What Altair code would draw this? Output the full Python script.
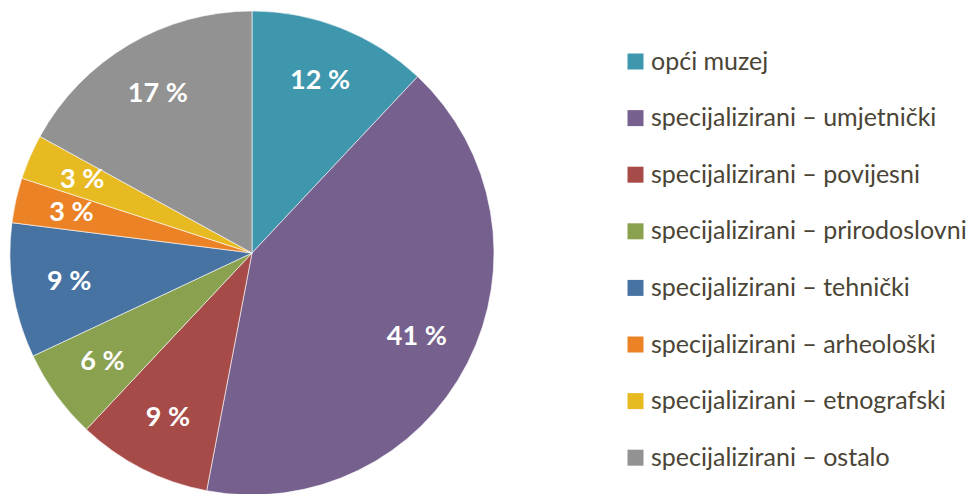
import altair as alt
import pandas as pd

categories = [
    "opći muzej",
    "specijalizirani – umjetnički",
    "specijalizirani – povijesni",
    "specijalizirani – prirodoslovni",
    "specijalizirani – tehnički",
    "specijalizirani – arheološki",
    "specijalizirani – etnografski",
    "specijalizirani – ostalo",
]
values = [12, 41, 9, 6, 9, 3, 3, 17]
colors = ["#3F97AE", "#76608E", "#A64B47", "#8AA14F", "#4773A3", "#EB8326", "#E8BA22", "#929292"]

df = pd.DataFrame({
    "cat": categories,
    "val": values,
    "idx": list(range(len(values))),
    "label": [f"{v} %" for v in values],
})

cx, cy, R = 243, 245, 242

base = alt.Chart(df).encode(
    theta=alt.Theta("val:Q", stack=True),
    order=alt.Order("idx:Q", sort="ascending"),
)

pie = base.mark_arc(outerRadius=R, stroke="#ffffff", strokeWidth=0.6).encode(
    x=alt.value(cx),
    y=alt.value(cy),
    color=alt.Color(
        "cat:N",
        scale=alt.Scale(domain=categories, range=colors),
        sort=categories,
        legend=alt.Legend(
            title=None,
            orient="none",
            legendX=614,
            legendY=41,
            symbolType="square",
            symbolSize=256,
            symbolStrokeWidth=0,
            labelFont="Lato",
            labelFontSize=25,
            labelColor="#4A4536",
            labelOffset=3,
            rowPadding=30.6,
            labelLimit=400,
        ),
    ),
)

text = base.mark_text(
    radius=185, font="Lato", fontSize=27, fontWeight="bold", color="white"
).encode(
    x=alt.value(cx),
    y=alt.value(cy),
    text="label:N",
)

chart = (pie + text).properties(
    width=600, height=478, padding=0
).configure_view(stroke=None)

chart.save("out.html", embed_options={"renderer": "svg", "actions": False})
